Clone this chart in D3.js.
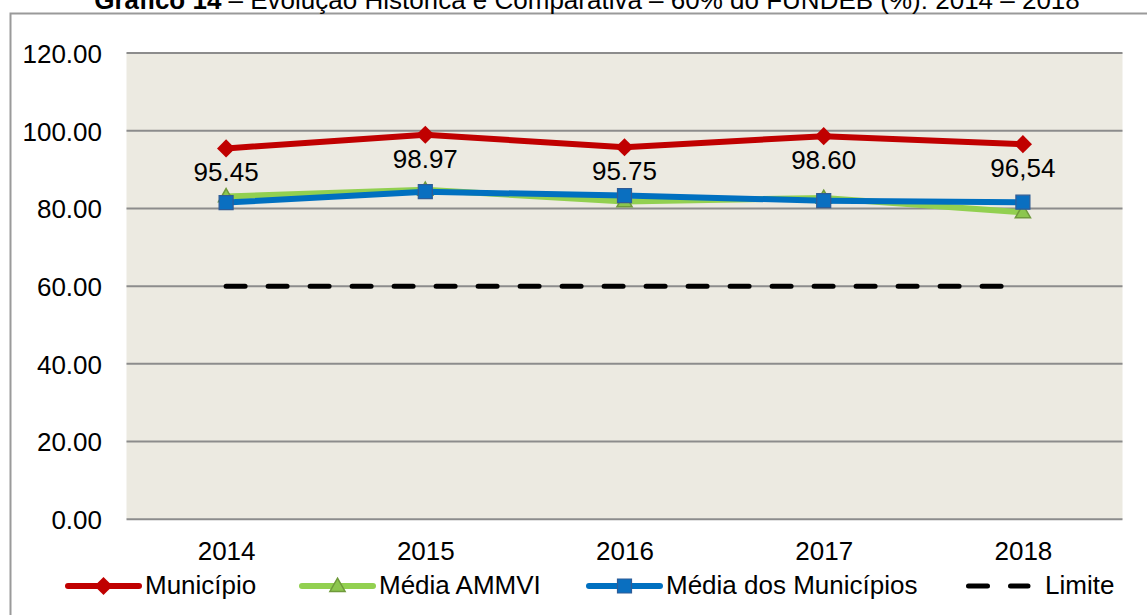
<!DOCTYPE html>
<html>
<head>
<meta charset="utf-8">
<script src="https://cdn.jsdelivr.net/npm/d3@7"></script>
<style>
  body { margin: 0; background: #fff; }
  text { font-family: "Liberation Sans", Arial, sans-serif; fill: #000; }
</style>
</head>
<body>
<div id="chart-area"></div>
<script>
// dados
var anos = ["2014", "2015", "2016", "2017", "2018"];
var municipio = [95.45, 98.97, 95.75, 98.60, 96.54];
var rotulosMunicipio = ["95.45", "98.97", "95.75", "98.60", "96,54"];
var mediaAmmvi = [83.1, 84.8, 81.8, 82.7, 79.0];
var mediaMunicipios = [81.5, 84.3, 83.3, 82.0, 81.6];
var limite = [60, 60, 60, 60, 60];
var yTicks = [0, 20, 40, 60, 80, 100, 120];
var titulo = "Gráfico 14";
var subtitulo = " – Evolução Histórica e Comparativa – 60% do FUNDEB (%): 2014 – 2018";

var W = 1147, H = 615;
var plot = { left: 126.5, right: 1122.5, top: 53, bottom: 519.3 };

var svg = d3.select("#chart-area")
    .append("svg")
        .attr("width", W)
        .attr("height", H);

// moldura externa
svg.append("rect")
    .attr("x", 10.5).attr("y", 13.5)
    .attr("width", 1200).attr("height", 700)
    .attr("fill", "#fff")
    .attr("stroke", "#9a9a9a")
    .attr("stroke-width", 2);

// titulo (cortado no topo)
var tt = svg.append("text")
    .attr("x", 587)
    .attr("y", 9)
    .attr("font-size", "26px")
    .attr("text-anchor", "middle");
tt.append("tspan").attr("font-weight", "bold").text(titulo);
tt.append("tspan").text(subtitulo);

// escalas
var x = d3.scalePoint()
    .domain(anos)
    .range([plot.left, plot.right])
    .padding(0.5);

var y = d3.scaleLinear()
    .domain([0, 120])
    .range([plot.bottom, plot.top]);

// fundo da area de plotagem
svg.append("rect")
    .attr("x", plot.left).attr("y", plot.top)
    .attr("width", plot.right - plot.left)
    .attr("height", plot.bottom - plot.top)
    .attr("fill", "#ECEAE1");

// grade
svg.append("g")
    .selectAll("line")
    .data(yTicks)
    .enter()
    .append("line")
        .attr("x1", plot.left).attr("x2", plot.right)
        .attr("y1", d => y(d)).attr("y2", d => y(d))
        .attr("stroke", "#8c8c8c")
        .attr("stroke-width", 2);

// eixo Y
var yAxis = d3.axisLeft(y)
    .tickValues(yTicks)
    .tickFormat(d3.format(".2f"))
    .tickSize(0)
    .tickPadding(0);
var yAxisGroup = svg.append("g")
    .attr("transform", "translate(102, 0)")
    .call(yAxis);
yAxisGroup.select(".domain").remove();
yAxisGroup.selectAll("text")
    .attr("font-size", "26px")
    .attr("font-family", "Liberation Sans, Arial, sans-serif")
    .attr("fill", "#000")
    .attr("dy", "0.36em");

// eixo X
var xAxis = d3.axisBottom(x).tickSize(0).tickPadding(0);
var xAxisGroup = svg.append("g")
    .attr("transform", "translate(0, 560)")
    .call(xAxis);
xAxisGroup.select(".domain").remove();
xAxisGroup.selectAll("text")
    .attr("font-size", "26px")
    .attr("font-family", "Liberation Sans, Arial, sans-serif")
    .attr("fill", "#000")
    .attr("dy", "0");

// series
var series = [
    { nome: "Município", valores: municipio, cor: "#C00000", marcador: "diamond" },
    { nome: "Média AMMVI", valores: mediaAmmvi, cor: "#92D050", marcador: "triangle" },
    { nome: "Média dos Municípios", valores: mediaMunicipios, cor: "#0070C0", marcador: "square" }
];

var linha = d3.line()
    .x((d, i) => x(anos[i]))
    .y(d => y(d));

function desenharMarcador(g, tipo) {
    if (tipo == "diamond") {
        g.append("path")
            .attr("d", d3.symbol(d3.symbolSquare, 165)())
            .attr("transform", "rotate(45)")
            .attr("fill", "#C00000");
    } else if (tipo == "triangle") {
        g.append("path")
            .attr("d", d3.symbol(d3.symbolTriangle, 100)())
            .attr("transform", "translate(0, 1)")
            .attr("fill", "#8CC64E")
            .attr("stroke", "#6F9A3B")
            .attr("stroke-width", 1.5);
    } else {
        g.append("path")
            .attr("d", d3.symbol(d3.symbolSquare, 196)())
            .attr("fill", "#0A6FC0")
            .attr("stroke", "#2F5C96")
            .attr("stroke-width", 1.2);
    }
}

series.forEach(s => {
    svg.append("path")
        .datum(s.valores)
        .attr("d", linha)
        .attr("fill", "none")
        .attr("stroke", s.cor)
        .attr("stroke-width", 6)
        .attr("stroke-linejoin", "round");

    svg.append("g")
        .selectAll("g")
        .data(s.valores)
        .enter()
        .append("g")
            .attr("transform", (d, i) => "translate(" + x(anos[i]) + "," + y(d) + ")")
            .each(function() { desenharMarcador(d3.select(this), s.marcador); });
});

// limite (tracejado)
svg.append("path")
    .datum(limite)
    .attr("d", linha)
    .attr("fill", "none")
    .attr("stroke", "#000")
    .attr("stroke-width", 5)
    .attr("stroke-linecap", "round")
    .attr("stroke-dasharray", "19,23");

// rotulos do municipio
svg.append("g")
    .selectAll("text")
    .data(municipio)
    .enter()
    .append("text")
        .attr("x", (d, i) => x(anos[i]))
        .attr("y", d => y(d) + 33)
        .attr("text-anchor", "middle")
        .attr("font-size", "26px")
        .text((d, i) => rotulosMunicipio[i]);

// legenda
var legenda = [
    { nome: "Município", x: 68, cor: "#C00000", marcador: "diamond" },
    { nome: "Média AMMVI", x: 302, cor: "#92D050", marcador: "triangle" },
    { nome: "Média dos Municípios", x: 589, cor: "#0070C0", marcador: "square" }
];
var legY = 586;

legenda.forEach(l => {
    var g = svg.append("g");
    g.append("line")
        .attr("x1", l.x).attr("x2", l.x + 71)
        .attr("y1", legY).attr("y2", legY)
        .attr("stroke", l.cor)
        .attr("stroke-width", 6)
        .attr("stroke-linecap", "round");
    var m = g.append("g").attr("transform", "translate(" + (l.x + 35.5) + "," + legY + ")");
    desenharMarcador(m, l.marcador);
    g.append("text")
        .attr("x", l.x + 77)
        .attr("y", 594)
        .attr("font-size", "26px")
        .text(l.nome);
});

svg.append("line")
    .attr("x1", 968.5).attr("x2", 1028)
    .attr("y1", legY).attr("y2", legY)
    .attr("stroke", "#000")
    .attr("stroke-width", 5)
    .attr("stroke-linecap", "round")
    .attr("stroke-dasharray", "19,23");
svg.append("text")
    .attr("x", 1045)
    .attr("y", 594)
    .attr("font-size", "26px")
    .text("Limite");
</script>
</body>
</html>
